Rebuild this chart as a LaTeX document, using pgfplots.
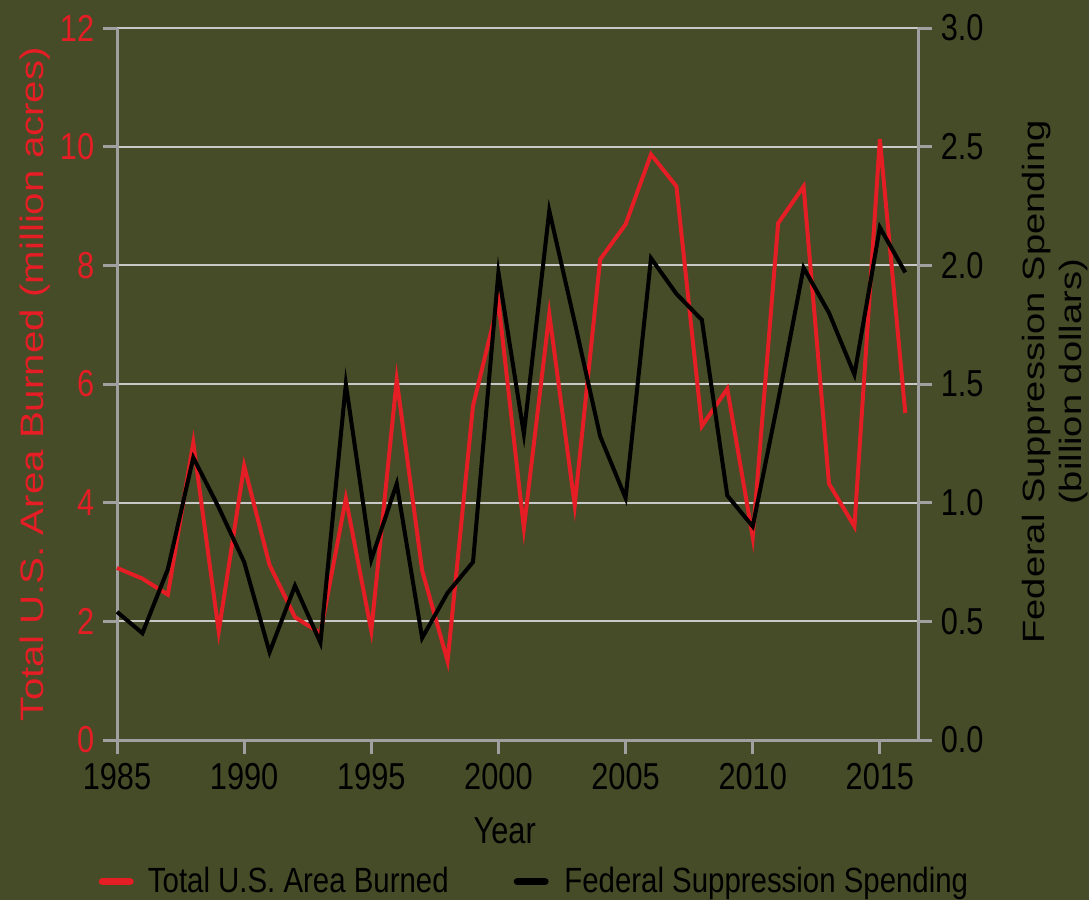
\documentclass[border=0pt]{standalone}
\usepackage{fontspec}
\setmainfont{Liberation Sans}[FakeStretch=0.82]
\newfontfamily\legfont{Liberation Sans}[FakeStretch=0.84]
\newfontfamily\rotfont{Liberation Sans}[FakeStretch=1.24]
\usepackage{pgfplots}
\pgfplotsset{compat=1.18}
\definecolor{bg}{RGB}{70,75,40}
\definecolor{axgray}{RGB}{160,160,160}
\definecolor{gridgray}{RGB}{200,200,200}
\definecolor{firered}{RGB}{228,30,36}
\pgfplotsset{common/.style={
  scale only axis, width=320.4pt, height=284.8pt,
  at={(46.8pt,64pt)}, anchor=south west,
  xmin=1985, xmax=2016.5,
  axis line style={draw=axgray, line width=1.2pt},
  tick style={draw=axgray, line width=1.2pt},
  tick align=outside, major tick length=5.6pt,
  /pgf/number format/assume math mode=true,
  ticklabel style={font=\fontsize{15}{18}\selectfont},
  clip=false,
}}
\begin{document}
\begin{tikzpicture}
\fill[bg] (0,0) rectangle (435.6pt,360pt);
\useasboundingbox (0,0) rectangle (435.6pt,360pt);
\begin{axis}[common,
  axis x line*=bottom, axis y line*=left,
  ymin=0, ymax=12, ytick={0,2,4,6,8,10,12},
  xtick={1985,1990,1995,2000,2005,2010,2015},
  x tick label style={/pgf/number format/1000 sep={}},
  ymajorgrids, major grid style={draw=gridgray, line width=0.8pt},
  yticklabel style={text=firered},
  xlabel={Year},
  xlabel style={font=\fontsize{15}{18}\selectfont, at={(axis description cs:0.484,-0.128)}, anchor=center},
  ylabel={Total U.S. Area Burned (million acres)},
  ylabel style={font=\rotfont\fontsize{13}{15}\selectfont, text=firered, at={(axis description cs:-0.102,0.5)}, anchor=center},
]
\addplot[firered, line width=1.6pt, line join=miter] coordinates {
(1985,2.90) (1986,2.72) (1987,2.45) (1988,5.01) (1989,1.83) (1990,4.62)
(1991,2.95) (1992,2.07) (1993,1.80) (1994,4.07) (1995,1.84) (1996,6.07)
(1997,2.86) (1998,1.33) (1999,5.63) (2000,7.39) (2001,3.57) (2002,7.18)
(2003,3.96) (2004,8.10) (2005,8.69) (2006,9.87) (2007,9.33) (2008,5.29)
(2009,5.92) (2010,3.42) (2011,8.71) (2012,9.33) (2013,4.32) (2014,3.60)
(2015,10.13) (2016,5.51)};
\end{axis}
\begin{axis}[common,
  axis x line=none, axis y line*=right,
  ymin=0, ymax=3, ytick={0,0.5,1,1.5,2,2.5,3},
  yticklabel style={/pgf/number format/.cd, fixed, fixed zerofill, precision=1},
  ylabel={Federal Suppression Spending\\(billion dollars)},
  ylabel style={font=\rotfont\fontsize{12.3}{15}\selectfont, align=center, at={(axis description cs:1.171,0.503)}, anchor=center},
  legend style={at={(axis description cs:0.523,-0.199)}, anchor=center, draw=none, fill=none,
    font=\legfont\fontsize{14}{16}\selectfont,
    /tikz/every even column/.append style={column sep=24pt}},
  legend columns=2,
  legend image code/.code={\draw[#1, line width=3pt, line cap=round] (0pt,0pt) -- (11pt,0pt); \path (16pt,0pt);},
]
\addlegendimage{firered}
\addlegendentry{Total U.S. Area Burned}
\addplot[black, line width=1.6pt, line join=miter] coordinates {
(1985,0.54) (1986,0.45) (1987,0.72) (1988,1.19) (1989,0.98) (1990,0.75)
(1991,0.37) (1992,0.65) (1993,0.41) (1994,1.50) (1995,0.76) (1996,1.08)
(1997,0.43) (1998,0.62) (1999,0.75) (2000,1.97) (2001,1.29) (2002,2.23)
(2003,1.76) (2004,1.28) (2005,1.02) (2006,2.03) (2007,1.88) (2008,1.77)
(2009,1.03) (2010,0.90) (2011,1.43) (2012,1.99) (2013,1.80) (2014,1.54)
(2015,2.16) (2016,1.97)};
\addlegendentry{Federal Suppression Spending}
\end{axis}
\end{tikzpicture}
\end{document}
